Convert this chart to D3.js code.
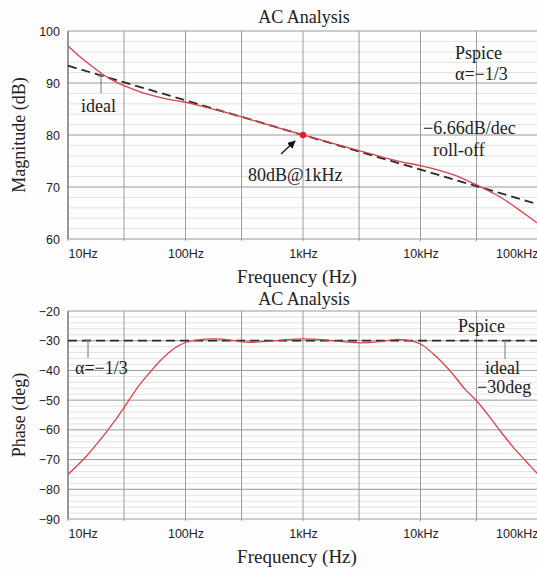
<!DOCTYPE html>
<html><head><meta charset="utf-8">
<script src="https://cdn.jsdelivr.net/npm/d3@7"></script>
<style>
html,body{margin:0;padding:0;background:#fdfdfd;}
svg{display:block;}
</style></head>
<body>
<script>
// ---- data ----
const magFreqs = [10, 12, 15, 20, 25, 30, 40, 50, 70, 100, 150, 200, 300, 500, 700, 1000, 1500, 2000, 3000, 5000, 7000, 10000, 15000, 20000, 30000, 40000, 50000, 70000, 100000];
const magnitude = [97.1, 95.5, 93.7, 91.6, 90.3, 89.5, 88.4, 87.7, 86.9, 86.3, 85.3, 84.6, 83.5, 82.0, 81.0, 80.0, 78.9, 78.1, 77.0, 75.6, 74.8, 74.1, 73.1, 72.2, 70.4, 69.0, 67.8, 65.5, 63.0];
const idealMagFreqs = [10, 100000];
const idealMag = [93.32, 66.68];
const phaseFreqs = [10, 14, 20, 25, 30, 40, 50, 60, 80, 100, 125, 180, 250, 330, 500, 700, 1000, 1500, 2000, 3000, 4500, 6000, 7600, 10000, 12900, 17800, 23900, 30000, 39000, 47500, 61700, 80000, 100000];
const phase = [-75.0, -69.3, -62.0, -57.0, -52.5, -45.2, -40.6, -37.0, -32.6, -30.6, -29.8, -29.4, -29.9, -30.5, -30.2, -29.7, -29.4, -29.7, -30.2, -30.7, -30.3, -29.6, -29.8, -31.1, -34.5, -40.1, -46.3, -50.2, -55.8, -60.3, -65.9, -70.8, -75.0];
const idealPhaseFreqs = [10, 100000];
const idealPhase = [-30, -30];
const gridFreqs = [10, 30, 100, 300, 1000, 3000, 10000, 30000, 100000];
const xTickValues = [10, 100, 1000, 10000, 100000];
const xTickLabels = ["10Hz", "100Hz", "1kHz", "10kHz", "100kHz"];
const magTicks = [60, 70, 80, 90, 100];
const phaseTicks = [-90, -80, -70, -60, -50, -40, -30, -20];
const markerPoint = {f: 1000, v: 80};

const W = 537, H = 570;
const svg = d3.select("body").append("svg").attr("width", W).attr("height", H);
const serif = "'Liberation Serif','Times New Roman',serif";
const sans = "'Liberation Sans',Arial,sans-serif";
const RED = "#d7424c";

const x = d3.scaleLog().domain([10, 100000]).range([68, 538]);

function minus(s){ return String(s).replace("-", "\u2212"); }

function panel(opt) {
  const y = d3.scaleLinear().domain(opt.domain).range([opt.bottom, opt.top]);
  const g = svg.append("g");
  const minor = d3.range(opt.domain[0], opt.domain[1] + 0.001, 2).filter(v => v % 10 !== 0);
  g.selectAll(".minor").data(minor).join("line")
    .attr("x1", x.range()[0]).attr("x2", x.range()[1])
    .attr("y1", d => y(d)).attr("y2", d => y(d))
    .attr("stroke", "#e2e2e2").attr("stroke-width", 1);
  g.selectAll(".major").data(opt.ticks).join("line")
    .attr("x1", x.range()[0]).attr("x2", x.range()[1])
    .attr("y1", d => y(d)).attr("y2", d => y(d))
    .attr("stroke", "#9a9a9a").attr("stroke-width", 1);
  g.selectAll(".vgrid").data(gridFreqs).join("line")
    .attr("x1", d => x(d)).attr("x2", d => x(d))
    .attr("y1", opt.top).attr("y2", opt.bottom + 2)
    .attr("stroke", "#9a9a9a").attr("stroke-width", 1);
  g.append("line").attr("x1", x.range()[0]).attr("x2", x.range()[0])
    .attr("y1", opt.top).attr("y2", opt.bottom).attr("stroke", "#666");

  const ya = g.append("g").attr("transform", `translate(${x.range()[0]},0)`)
    .call(d3.axisLeft(y).tickValues(opt.ticks).tickSize(0).tickPadding(8).tickFormat(d => minus(d)));
  ya.select(".domain").remove();
  ya.selectAll("text").attr("font-family", sans).attr("font-size", 12.5).attr("fill", "#222");

  const xa = g.append("g").attr("transform", `translate(0,${opt.bottom})`)
    .call(d3.axisBottom(x).tickValues(xTickValues).tickSize(0).tickPadding(10)
      .tickFormat((d, i) => xTickLabels[i]));
  xa.select(".domain").remove();
  xa.selectAll("text").attr("font-family", sans).attr("font-size", 12.5).attr("fill", "#222");
  xa.selectAll("text").filter((d, i) => i === 0).attr("text-anchor", "start");
  xa.selectAll("text").filter((d, i) => i === xTickValues.length - 1).attr("text-anchor", "end");

  const idealPts = opt.idealF.map((f, i) => [f, opt.idealV[i]]);
  g.append("path").datum(idealPts)
    .attr("d", d3.line().x(d => x(d[0])).y(d => y(d[1])))
    .attr("fill", "none").attr("stroke", "#2a2a2a").attr("stroke-width", 1.8)
    .attr("stroke-dasharray", "9,5");
  const pts = opt.freqs.map((f, i) => [f, opt.vals[i]]);
  g.append("path").datum(pts)
    .attr("d", d3.line().curve(d3.curveCatmullRom.alpha(0.5)).x(d => x(d[0])).y(d => y(d[1])))
    .attr("fill", "none").attr("stroke", RED).attr("stroke-width", 1.3);

  svg.append("text").attr("x", 304).attr("y", opt.top - opt.titleGap).attr("text-anchor", "middle")
    .attr("font-family", serif).attr("font-size", 18).attr("fill", "#222").text("AC Analysis");
  svg.append("text").attr("x", 297).attr("y", opt.bottom + 44).attr("text-anchor", "middle")
    .attr("font-family", serif).attr("font-size", 19).attr("fill", "#222").text("Frequency (Hz)");
  svg.append("text").attr("transform", `translate(25,${(opt.top + opt.bottom) / 2}) rotate(-90)`)
    .attr("text-anchor", "middle").attr("font-family", serif).attr("font-size", 18).attr("fill", "#222")
    .text(opt.ylabel);
  return y;
}

const yMag = panel({domain: [60, 100], top: 31, bottom: 239, ticks: magTicks, titleGap: 8,
  freqs: magFreqs, vals: magnitude, idealF: idealMagFreqs, idealV: idealMag, ylabel: "Magnitude (dB)"});
const yPh = panel({domain: [-90, -20], top: 311, bottom: 519, ticks: phaseTicks, titleGap: 6,
  freqs: phaseFreqs, vals: phase, idealF: idealPhaseFreqs, idealV: idealPhase, ylabel: "Phase (deg)"});

svg.append("circle").attr("cx", x(markerPoint.f)).attr("cy", yMag(markerPoint.v)).attr("r", 3.2).attr("fill", "#e0202a");

function txt(xp, yp, s, anchor) {
  svg.append("text").attr("x", xp).attr("y", yp).attr("text-anchor", anchor || "start")
    .attr("font-family", serif).attr("font-size", 18).attr("fill", "#222").text(s);
}
function leader(xp, y1, y2) {
  svg.append("line").attr("x1", xp).attr("x2", xp).attr("y1", y1).attr("y2", y2).attr("stroke", "#777").attr("stroke-width", 1);
  svg.append("line").attr("x1", xp - 3).attr("x2", xp + 3).attr("y1", y1).attr("y2", y1).attr("stroke", "#777").attr("stroke-width", 1);
}

leader(101, 76, 93);
txt(81, 112, "ideal");
txt(455, 59, "Pspice");
txt(455, 80, "\u03b1=\u22121/3");
txt(423, 134, "\u22126.66dB/dec");
txt(433, 156, "roll-off");
txt(248, 181, "80dB@1kHz");
svg.append("defs").append("marker").attr("id", "ah").attr("viewBox", "0 0 10 10")
  .attr("refX", 9).attr("refY", 5).attr("markerWidth", 8).attr("markerHeight", 8)
  .attr("orient", "auto").attr("markerUnits", "userSpaceOnUse")
  .append("path").attr("d", "M0,0L10,5L0,10z").attr("fill", "#111");
svg.append("line").attr("x1", 281).attr("y1", 154).attr("x2", 295).attr("y2", 141)
  .attr("stroke", "#111").attr("stroke-width", 1.3).attr("marker-end", "url(#ah)");

leader(88, 340, 358);
txt(75, 374, "\u03b1=\u22121/3");
txt(458, 332, "Pspice");
leader(505, 341, 359);
txt(485, 374, "ideal");
txt(477, 393, "\u221230deg");
</script>
</body></html>
